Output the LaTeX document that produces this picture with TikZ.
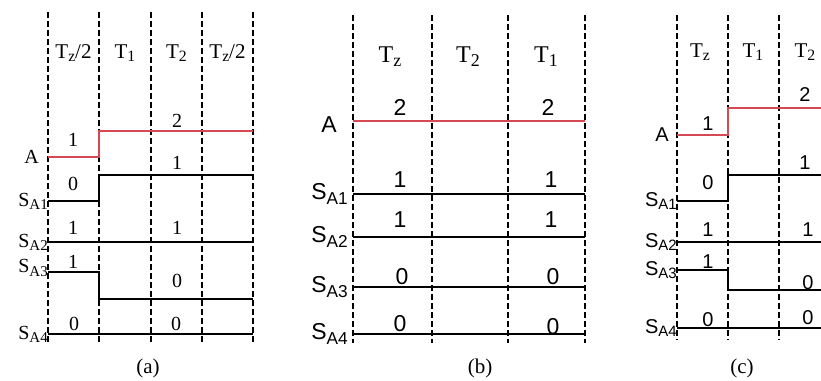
\documentclass[tikz,border=0pt]{standalone}
\usepackage{fontspec}
\setmainfont{Liberation Serif}
\setsansfont{Liberation Sans}
\usetikzlibrary{positioning}

\definecolor{sigred}{RGB}{214,72,84}
\newcommand\lowsub[1]{\raisebox{-.35ex}{\scalebox{.75}{#1}}}

\begin{document}
\begin{tikzpicture}[x=1pt,y=-1pt,
  grid/.style={line width=1.4pt,dash pattern=on 6pt off 3pt},
  sig/.style={line width=1.9pt},
  asig/.style={line width=1.9pt,draw=sigred},
  rma/.style={inner sep=0pt,font=\fontsize{20}{20}\selectfont},
  rmt/.style={inner sep=0pt,font=\fontsize{21}{21}\selectfont},
  sfb/.style={inner sep=0pt,font=\sffamily\fontsize{23}{23}\selectfont},
  sfc/.style={inner sep=0pt,font=\sffamily\fontsize{20}{20}\selectfont}]
\useasboundingbox (0,0) rectangle (821,380);
% (a)
\draw[grid] (48,12)--(48,343);
\draw[grid] (99,12)--(99,343);
\draw[grid] (151,12)--(151,343);
\draw[grid] (202,12)--(202,343);
\draw[grid] (253,12)--(253,343);
\node[rmt] (aT1) at (73.5,53) {T\lowsub{z}/2};
\node[rmt] (aT2) at (125,53) {T\lowsub{1}};
\node[rmt] (aT3) at (176.5,53) {T\lowsub{2}};
\node[rmt] (aT4) at (227.5,53) {T\lowsub{z}/2};
\coordinate (aA) at (48,157);
\coordinate (aS1) at (48,201);
\coordinate (aS2) at (48,242);
\coordinate (aS3) at (48,272);
\coordinate (aS4) at (48,334);
\draw[asig] (aA)--(99,157)--(99,131)--(253,131);
\draw[sig] (aS1)--(99,201)--(99,175)--(253,175);
\draw[sig] (aS2)--(253,242);
\draw[sig] (aS3)--(99,272)--(99,299)--(253,299);
\draw[sig] (aS4)--(253,334);
\node[rma,left=9pt of aA] (aAl) {A};
\node[rma,left=0pt of aS1] (aS1l) {S\lowsub{A1}};
\node[rma,left=0pt of aS2] (aS2l) {S\lowsub{A2}};
\node[rma,left=0pt of aS3,yshift=4pt] (aS3l) {S\lowsub{A3}};
\node[rma,left=0pt of aS4] (aS4l) {S\lowsub{A4}};
\node[rma] (aA1) at (73,140) {1};\node[rma] (aA2) at (177,121) {2};
\node[rma] (a11) at (73,184) {0};\node[rma] (a12) at (177,163) {1};
\node[rma] (a21) at (73,228) {1};\node[rma] (a22) at (177,228) {1};
\node[rma] (a31) at (73,262) {1};\node[rma] (a32) at (177,281) {0};
\node[rma] (a41) at (74,324) {0};\node[rma] (a42) at (176,324) {0};
\node[rma,font=\fontsize{21}{21}\selectfont] (capa) at (148,368) {(a)};
% (b)
\draw[grid] (353,15)--(353,343);
\draw[grid] (432,15)--(432,343);
\draw[grid] (508,15)--(508,343);
\draw[grid] (585,15)--(585,343);
\node[rmt,font=\fontsize{24}{24}\selectfont] (bT1) at (390,57) {T\lowsub{z}};
\node[rmt,font=\fontsize{24}{24}\selectfont] (bT2) at (468,57) {T\lowsub{2}};
\node[rmt,font=\fontsize{24}{24}\selectfont] (bT3) at (546,57) {T\lowsub{1}};
\coordinate (bA) at (353,121);
\coordinate (bS1) at (353,194);
\coordinate (bS2) at (353,237);
\coordinate (bS3) at (353,287);
\coordinate (bS4) at (353,334);
\draw[asig] (bA)--(585,121);
\draw[sig] (bS1)--(585,194);
\draw[sig] (bS2)--(585,237);
\draw[sig] (bS3)--(585,287);
\draw[sig] (bS4)--(585,334);
\node[sfb,left=16pt of bA,yshift=-4pt] (bAl) {A};
\node[sfb,left=5pt of bS1] (bS1l) {S\lowsub{A1}};
\node[sfb,left=5pt of bS2] (bS2l) {S\lowsub{A2}};
\node[sfb,left=5pt of bS3] (bS3l) {S\lowsub{A3}};
\node[sfb,left=5pt of bS4] (bS4l) {S\lowsub{A4}};
\node[sfb] (bA1) at (400,107) {2};\node[sfb] (bA2) at (548,107) {2};
\node[sfb] (b11) at (400,180) {1};\node[sfb] (b12) at (551,180) {1};
\node[sfb] (b21) at (400,220) {1};\node[sfb] (b22) at (551,220) {1};
\node[sfb] (b31) at (402,277) {0};\node[sfb] (b32) at (553,277) {0};
\node[sfb] (b41) at (400,324) {0};\node[sfb] (b42) at (553,327) {0};
\node[rma,font=\fontsize{21}{21}\selectfont] (capb) at (480,368) {(b)};
% (c)
\draw[grid] (677,15)--(677,340);
\draw[grid] (728,15)--(728,340);
\draw[grid] (779,15)--(779,340);
\node[rmt] (cT1) at (700,52) {T\lowsub{z}};
\node[rmt] (cT2) at (753,52) {T\lowsub{1}};
\node[rmt] (cT3) at (805,52) {T\lowsub{2}};
\coordinate (cA) at (677,135);
\coordinate (cS1) at (677,201);
\coordinate (cS2) at (677,242);
\coordinate (cS3) at (677,270);
\coordinate (cS4) at (677,328);
\draw[asig] (cA)--(728,135)--(728,108)--(821,108);
\draw[sig] (cS1)--(728,201)--(728,175)--(821,175);
\draw[sig] (cS2)--(821,242);
\draw[sig] (cS3)--(728,270)--(728,290)--(821,290);
\draw[sig] (cS4)--(821,328);
\node[sfc,left=8pt of cA] (cAl) {A};
\node[sfc,left=0pt of cS1] (cS1l) {S\lowsub{A1}};
\node[sfc,left=0pt of cS2] (cS2l) {S\lowsub{A2}};
\node[sfc,left=0pt of cS3] (cS3l) {S\lowsub{A3}};
\node[sfc,left=0pt of cS4] (cS4l) {S\lowsub{A4}};
\node[sfc] (cA1) at (708,124) {1};\node[sfc] (cA2) at (805,95) {2};
\node[sfc] (c11) at (708,183) {0};\node[sfc] (c12) at (805,163) {1};
\node[sfc] (c21) at (708,230) {1};\node[sfc] (c22) at (808,230) {1};
\node[sfc] (c31) at (708,262) {1};\node[sfc] (c32) at (808,283) {0};
\node[sfc] (c41) at (708,320) {0};\node[sfc] (c42) at (808,318) {0};
\node[rma,font=\fontsize{21}{21}\selectfont] (capc) at (742,368) {(c)};
\end{tikzpicture}
\end{document}
